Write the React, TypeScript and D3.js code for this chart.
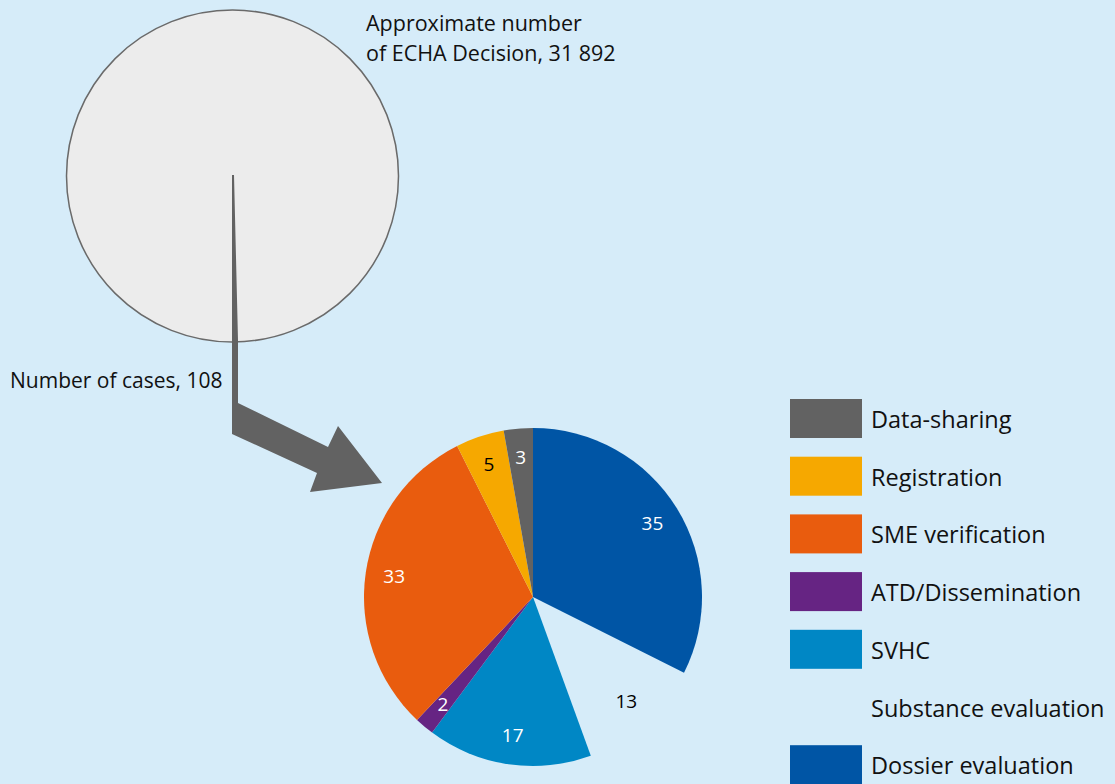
import { useEffect, useRef } from "react";
import * as d3 from "d3";

// pie slices, clockwise from 12 o'clock
const categories = [
  "Dossier evaluation",
  "Substance evaluation",
  "SVHC",
  "ATD/Dissemination",
  "SME verification",
  "Registration",
  "Data-sharing",
];
const values = [35, 13, 17, 2, 33, 5, 3];
const colors = ["#0055a5", "none", "#0087c5", "#662483", "#e95c0e", "#f6a800", "#626262"];
const labelColors = ["#fff", "#000", "#fff", "#fff", "#fff", "#000", "#fff"];

// legend reads top to bottom
const legendOrder = [
  "Data-sharing",
  "Registration",
  "SME verification",
  "ATD/Dissemination",
  "SVHC",
  "Substance evaluation",
  "Dossier evaluation",
];

const totalDecisions = "31 892";
const totalCases = 108;

export default function App() {
  const ref = useRef<SVGSVGElement | null>(null);

  useEffect(() => {
    const width = 1115;
    const height = 784;
    const font = "'Open Sans', sans-serif";

    const svg = d3.select(ref.current);
    svg.selectAll("*").remove();

    svg.append("rect").attr("width", width).attr("height", height).attr("fill", "#d6ecf9");

    /* =====================
       Big circle
    ===================== */
    svg
      .append("circle")
      .attr("cx", 232.5)
      .attr("cy", 176)
      .attr("r", 166)
      .attr("fill", "#ececec")
      .attr("stroke", "#6a6a6a")
      .attr("stroke-width", 1.5);

    const title = svg
      .append("text")
      .attr("x", 366)
      .attr("y", 31)
      .attr("font-family", font)
      .attr("font-size", 21.5)
      .attr("fill", "#111");
    title.append("tspan").attr("x", 366).text("Approximate number");
    title
      .append("tspan")
      .attr("x", 366)
      .attr("dy", 30)
      .text(`of ECHA Decision, ${totalDecisions}`);

    svg
      .append("text")
      .attr("x", 10)
      .attr("y", 388)
      .attr("font-family", font)
      .attr("font-size", 21)
      .attr("fill", "#111")
      .text(`Number of cases, ${totalCases}`);

    /* =====================
       Arrow
    ===================== */
    const arrow = d3.line()([
      [232, 175],
      [234, 175],
      [238, 340],
      [238, 403],
      [328, 447],
      [338, 426],
      [382, 483],
      [310, 492],
      [317, 473],
      [232, 434],
    ]);
    svg.append("path").attr("d", arrow + "Z").attr("fill", "#626262");

    /* =====================
       Pie
    ===================== */
    const cx = 533;
    const cy = 597;
    const r = 169;

    const pie = d3
      .pie<number>()
      .sort(null)
      .value((d) => d);
    const arcs = pie(values);

    const arc = d3.arc<d3.PieArcDatum<number>>().innerRadius(0).outerRadius(r);
    const labelArc = d3
      .arc<d3.PieArcDatum<number>>()
      .innerRadius(r * 0.83)
      .outerRadius(r * 0.83);

    const g = svg.append("g").attr("transform", `translate(${cx},${cy})`);

    g.selectAll("path.slice")
      .data(arcs)
      .enter()
      .append("path")
      .attr("class", "slice")
      .attr("d", arc)
      .attr("fill", (_, i) => colors[i]);

    g.selectAll("text.lbl")
      .data(arcs)
      .enter()
      .append("text")
      .attr("class", "lbl")
      .attr("transform", (d) => `translate(${labelArc.centroid(d)})`)
      .attr("text-anchor", "middle")
      .attr("dy", "0.35em")
      .attr("font-family", font)
      .attr("font-size", 19)
      .attr("fill", (_, i) => labelColors[i])
      .text((d) => d.data);

    /* =====================
       Legend
    ===================== */
    const y = d3
      .scaleBand()
      .domain(legendOrder)
      .range([399, 399 + 57.7 * legendOrder.length]);

    const legend = svg
      .selectAll("g.legend")
      .data(legendOrder)
      .enter()
      .append("g")
      .attr("class", "legend")
      .attr("transform", (d) => `translate(790,${y(d)})`);

    legend
      .append("rect")
      .attr("width", 72)
      .attr("height", 39)
      .attr("fill", (d) => colors[categories.indexOf(d)]);

    legend
      .append("text")
      .attr("x", 81)
      .attr("y", 29)
      .attr("font-family", font)
      .attr("font-size", 23.5)
      .attr("fill", "#111")
      .text((d) => d);

    return () => {
      svg.selectAll("*").remove();
    };
  }, []);

  return (
    <svg
      ref={ref}
      width={1115}
      height={784}
      style={{ position: "absolute", left: 0, top: 0, display: "block" }}
    />
  );
}
